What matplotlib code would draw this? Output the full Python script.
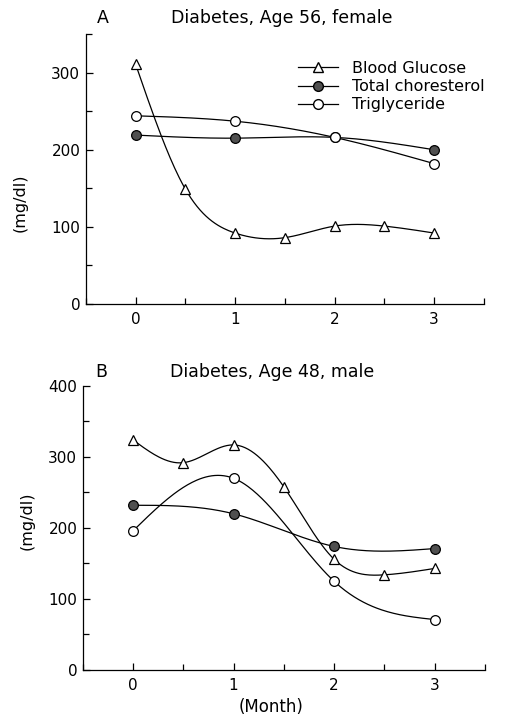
import numpy as np
import matplotlib
matplotlib.use("Agg")
import matplotlib.pyplot as plt
from matplotlib.ticker import MultipleLocator
from matplotlib.lines import Line2D

plt.rcParams['font.family'] = ['DejaVu Sans']

# datos panel A (mujer, 56)
mesA_glu = [0, 0.5, 1, 1.5, 2, 2.5, 3]
glucosaA = [311, 149, 92, 86, 101, 101, 92]
mesA = [0, 1, 2, 3]
colesterolA = [219, 215, 216, 200]
trigliA = [244, 237, 216, 182]

# datos panel B (hombre, 48)
mesB_glu = [0, 0.5, 1, 1.5, 2, 2.5, 3]
glucosaB = [324, 292, 317, 258, 156, 134, 143]
mesB = [0, 1, 2, 3]
colesterolB = [232, 220, 174, 171]
trigliB = [196, 270, 125, 71]

etiquetas = ['Blood Glucose', 'Total choresterol', 'Triglyceride']


def curva(x, y, n=200):
    # spline cubico natural para dibujar la linea suave
    x = np.asarray(x, float)
    y = np.asarray(y, float)
    k = len(x)
    h = np.diff(x)
    A = np.zeros((k, k))
    b = np.zeros(k)
    A[0, 0] = 1
    A[-1, -1] = 1
    for i in range(1, k - 1):
        A[i, i - 1] = h[i - 1]
        A[i, i] = 2 * (h[i - 1] + h[i])
        A[i, i + 1] = h[i]
        b[i] = 6 * ((y[i + 1] - y[i]) / h[i] - (y[i] - y[i - 1]) / h[i - 1])
    M = np.linalg.solve(A, b)
    xs = np.linspace(x[0], x[-1], n)
    ys = np.zeros(n)
    for j, t in enumerate(xs):
        i = min(np.searchsorted(x, t, side='right') - 1, k - 2)
        a = x[i + 1] - t
        c = t - x[i]
        ys[j] = (M[i] * a ** 3 + M[i + 1] * c ** 3) / (6 * h[i]) \
            + (y[i] / h[i] - M[i] * h[i] / 6) * a \
            + (y[i + 1] / h[i] - M[i + 1] * h[i] / 6) * c
    return xs, ys


def dibujar(ax, xg, g, xc, c, xt, t, ymax):
    lw = 0.9
    ms = 7
    for xx, yy, mk, fc in [(xg, g, '^', 'white'), (xc, c, 'o', '#505050'),
                           (xt, t, 'o', 'white')]:
        xs, ys = curva(xx, yy)
        ax.plot(xs, ys, color='black', lw=lw, zorder=2)
        ax.plot(xx, yy, ls='none', marker=mk, ms=ms, mfc=fc, mec='black',
                mew=0.9, zorder=3)
    ax.set_xlim(-0.5, 3.5)
    ax.set_ylim(0, ymax)
    ax.spines['top'].set_visible(False)
    ax.spines['right'].set_visible(False)
    ax.xaxis.set_major_locator(MultipleLocator(1))
    ax.xaxis.set_minor_locator(MultipleLocator(0.5))
    ax.yaxis.set_major_locator(MultipleLocator(100))
    ax.yaxis.set_minor_locator(MultipleLocator(50))
    ax.tick_params(which='both', direction='in', labelsize=11, width=0.9)
    ax.tick_params(which='major', length=5, pad=4)
    ax.tick_params(which='minor', length=4)
    ax.tick_params(axis='x', pad=6)
    for s in ax.spines.values():
        s.set_linewidth(0.9)


fig = plt.figure(figsize=(5.05, 7.18), dpi=100)

axA = fig.add_axes([0.170, 0.5766, 0.788, 0.376])
dibujar(axA, mesA_glu, glucosaA, mesA, colesterolA, mesA, trigliA, 350)
axB = fig.add_axes([0.164, 0.0669, 0.796, 0.3955])
dibujar(axB, mesB_glu, glucosaB, mesB, colesterolB, mesB, trigliB, 400)

# leyenda
manijas = [Line2D([], [], color='black', lw=0.9, marker='^', ms=7, mfc='white', mec='black'),
           Line2D([], [], color='black', lw=0.9, marker='o', ms=7, mfc='#505050', mec='black'),
           Line2D([], [], color='black', lw=0.9, marker='o', ms=7, mfc='white', mec='black')]
axA.legend(manijas, etiquetas, frameon=False, fontsize=11.5, handlelength=2.5,
           handletextpad=0.9, labelspacing=0.2, loc='upper left',
           bbox_to_anchor=(0.533, 0.90), borderpad=0, borderaxespad=0)

fig.text(103 / 505, 1 - 18 / 718, 'A', fontsize=12.5, ha='center', va='center')
fig.text(282 / 505, 1 - 18 / 718, 'Diabetes, Age 56, female', fontsize=12.5,
         ha='center', va='center')
fig.text(101 / 505, 1 - 372 / 718, 'B', fontsize=12.5, ha='center', va='center')
fig.text(272 / 505, 1 - 372 / 718, 'Diabetes, Age 48, male', fontsize=12.5,
         ha='center', va='center')
fig.text(20 / 505, 1 - 203 / 718, '(mg/dl)', fontsize=11.5, rotation=90,
         ha='center', va='center')
fig.text(27 / 505, 1 - 521 / 718, '(mg/dl)', fontsize=11.5, rotation=90,
         ha='center', va='center')
fig.text(271 / 505, 1 - 707 / 718, '(Month)', fontsize=12, ha='center',
         va='center')

fig.savefig('out.png', dpi=100)
